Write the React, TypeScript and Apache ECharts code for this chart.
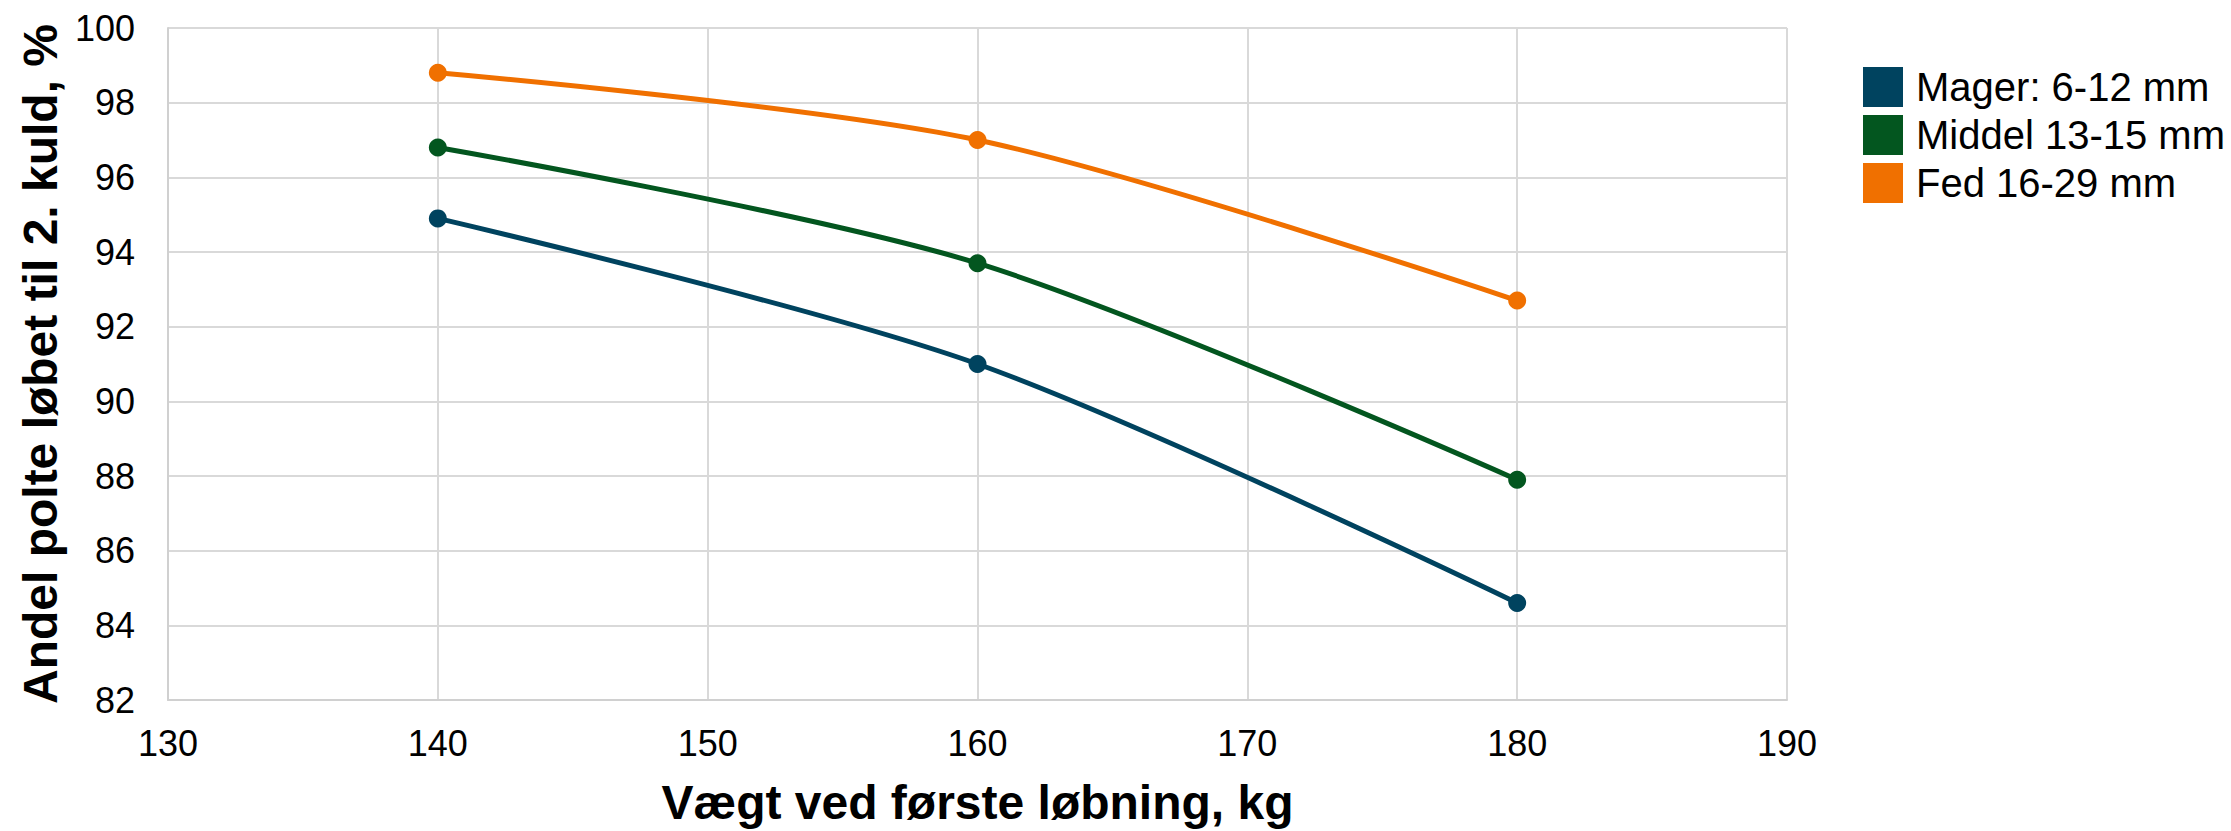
import React, { useEffect, useRef } from "react";
import * as echarts from "echarts";

const weights = [140, 160, 180];
const seriesNames = ["Mager: 6-12 mm", "Middel 13-15 mm", "Fed 16-29 mm"];
const magerValues = [94.9, 91.0, 84.6];
const middelValues = [96.8, 93.7, 87.9];
const fedValues = [98.8, 97.0, 92.7];
const seriesColors = ["#00435F", "#03561F", "#F07000"];
const xTitle = "Vægt ved første løbning, kg";
const yTitle = "Andel polte løbet til 2. kuld, %";

export default function App() {
  const ref = useRef<HTMLDivElement>(null);
  useEffect(() => {
    document.body.style.margin = "0";
    if (!ref.current) return;
    const chart = echarts.init(ref.current, undefined, { renderer: "svg" });
    const font = "Liberation Sans, Arial, sans-serif";
    const allValues = [magerValues, middelValues, fedValues];
    chart.setOption({
      animation: false,
      backgroundColor: "#ffffff",
      textStyle: { fontFamily: font },
      grid: { left: 168, right: 444, top: 28, bottom: 127 },
      legend: {
        orient: "vertical",
        left: 1863,
        top: 67,
        padding: 0,
        itemWidth: 40,
        itemHeight: 40,
        itemGap: 8,
        icon: "rect",
        textStyle: { fontSize: 40, color: "#000", fontFamily: font, padding: [0, 0, 0, 8] },
        data: seriesNames,
      },
      xAxis: {
        type: "value",
        min: 130,
        max: 190,
        interval: 10,
        name: xTitle,
        nameLocation: "middle",
        nameGap: 78,
        nameTextStyle: { fontSize: 48, fontWeight: "bold", color: "#000", fontFamily: font },
        axisLine: { show: true, lineStyle: { color: "#D0D0D0", width: 2 } },
        axisTick: { show: false },
        axisLabel: { fontSize: 36, color: "#000", margin: 25, fontFamily: font },
        splitLine: { show: true, lineStyle: { color: "#D9D9D9", width: 2 } },
      },
      yAxis: {
        type: "value",
        min: 82,
        max: 100,
        interval: 2,
        name: yTitle,
        nameLocation: "middle",
        nameGap: 102,
        nameTextStyle: { fontSize: 48, fontWeight: "bold", color: "#000", fontFamily: font },
        axisLine: { show: true, lineStyle: { color: "#D0D0D0", width: 2 } },
        axisTick: { show: false },
        axisLabel: { fontSize: 36, color: "#000", margin: 33, fontFamily: font },
        splitLine: { show: true, lineStyle: { color: "#D9D9D9", width: 2 } },
      },
      series: seriesNames.map((name, i) => ({
        name,
        type: "line",
        smooth: 0.3,
        symbol: "circle",
        symbolSize: 18,
        data: weights.map((w, j) => [w, allValues[i][j]]),
        itemStyle: { color: seriesColors[i] },
        lineStyle: { color: seriesColors[i], width: 5 },
      })),
    });
    return () => chart.dispose();
  }, []);
  return <div ref={ref} style={{ width: 2231, height: 831 }} />;
}
